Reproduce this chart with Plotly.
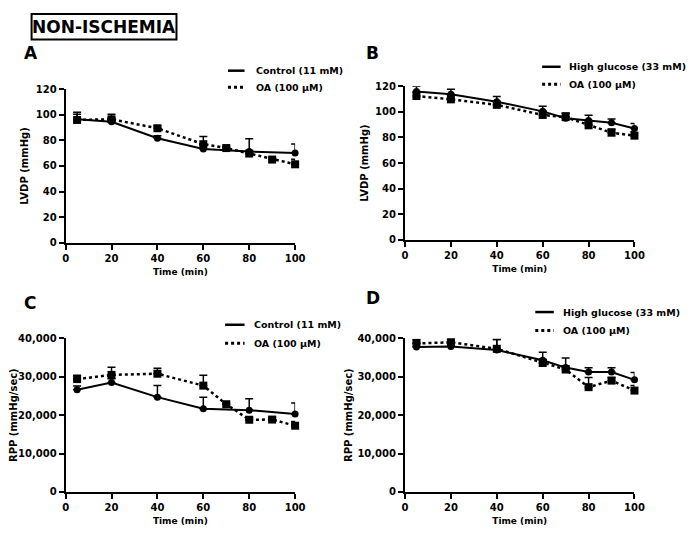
import plotly.graph_objects as go

# ---------------- data ----------------
time_ctrl = [5, 20, 40, 60, 80, 100]
time_oa = [5, 20, 40, 60, 70, 80, 90, 100]
time_hg = [5, 20, 40, 60, 70, 80, 90, 100]

# Panel A: LVDP, control vs OA
lvdp_ctrl = [96.5, 94.5, 81.7, 73.3, 71.3, 70.2]
lvdp_ctrl_err = [4, 3, 2, 3, 10, 7]
lvdp_ctrl_oa = [96.0, 96.5, 89.5, 77.0, 74.0, 69.7, 65.0, 61.3]
lvdp_ctrl_oa_err = [6, 4, 2, 6, 1, 2, 1, 4]

# Panel B: LVDP, high glucose vs OA
lvdp_hg = [116.0, 113.7, 108.0, 100.4, 95.1, 93.3, 91.5, 87.0]
lvdp_hg_err = [4, 4, 4, 4, 4, 4, 3, 4]
lvdp_hg_oa = [112.4, 109.8, 105.5, 97.6, 95.9, 89.5, 83.7, 81.4]
lvdp_hg_oa_err = [3, 3, 3, 3, 3, 3, 3, 3]

# Panel C: RPP, control vs OA
rpp_ctrl = [26600, 28500, 24700, 21700, 21300, 20300]
rpp_ctrl_err = [1000, 1000, 3000, 3000, 3000, 2900]
rpp_ctrl_oa = [29400, 30500, 30800, 27700, 22850, 18800, 18850, 17250]
rpp_ctrl_oa_err = [1000, 2000, 1400, 2700, 300, 500, 600, 1100]

# Panel D: RPP, high glucose vs OA
rpp_hg = [37800, 37900, 37000, 34300, 32400, 31250, 31250, 29200]
rpp_hg_err = [1000, 1000, 2700, 2100, 2500, 1100, 1100, 1900]
rpp_hg_oa = [38700, 39000, 37300, 33600, 31900, 27300, 29000, 26400]
rpp_hg_oa_err = [1000, 700, 2400, 1000, 1000, 2500, 800, 1300]

x_ticks = [0, 20, 40, 60, 80, 100]
lvdp_ticks = [0, 20, 40, 60, 80, 100, 120]
rpp_ticks = [0, 10000, 20000, 30000, 40000]

panel_letters = ["A", "B", "C", "D"]
legend_labels = [["Control (11 mM)", "OA (100 \u03bcM)"],
                 ["High glucose (33 mM)", "OA (100 \u03bcM)"],
                 ["Control (11 mM)", "OA (100 \u03bcM)"],
                 ["High glucose (33 mM)", "OA (100 \u03bcM)"]]
main_title = "NON-ISCHEMIA"

# ---------------- layout helpers ----------------
# the page body has an 8px margin, so the figure is drawn 8px in
OFF = 8
W, H = 697 - OFF, 535 - OFF
FONT = "DejaVu Sans"


def px(x):
    return (x - OFF) / W


def py(y):
    return 1 - (y - OFF) / H


def bold_labels(vals):
    return ["<b>{:,}</b>".format(v) for v in vals]


fig = go.Figure()


def add_pair(xa, ya, t1, y1, e1, t2, y2, e2):
    solid = go.Scatter(
        x=t1, y=y1, mode="lines+markers", xaxis=xa, yaxis=ya,
        line=dict(color="black", width=2),
        marker=dict(symbol="circle", size=7, color="black"),
        error_y=dict(type="data", symmetric=False, array=e1,
                     arrayminus=[0] * len(e1), color="black",
                     thickness=1.5, width=4),
        cliponaxis=False, showlegend=False)
    dotted = go.Scatter(
        x=t2, y=y2, mode="lines+markers", xaxis=xa, yaxis=ya,
        line=dict(color="black", width=2.5, dash="dot"),
        marker=dict(symbol="square", size=8, color="black"),
        error_y=dict(type="data", symmetric=False, array=e2,
                     arrayminus=[0] * len(e2), color="black",
                     thickness=1.5, width=4),
        cliponaxis=False, showlegend=False)
    fig.add_trace(dotted)
    fig.add_trace(solid)


add_pair("x", "y", time_ctrl, lvdp_ctrl, lvdp_ctrl_err,
         time_oa, lvdp_ctrl_oa, lvdp_ctrl_oa_err)
add_pair("x2", "y2", time_hg, lvdp_hg, lvdp_hg_err,
         time_hg, lvdp_hg_oa, lvdp_hg_oa_err)
add_pair("x3", "y3", time_ctrl, rpp_ctrl, rpp_ctrl_err,
         time_oa, rpp_ctrl_oa, rpp_ctrl_oa_err)
add_pair("x4", "y4", time_hg, rpp_hg, rpp_hg_err,
         time_hg, rpp_hg_oa, rpp_hg_oa_err)

# plot-area pixel boxes: (left, right, top, bottom)
boxes = [(58, 294, 85, 242), (407, 643, 82, 239),
         (58, 294, 340, 497), (407, 643, 340, 497)]

tickfont = dict(family=FONT, size=10, color="black")
xtitlefont = dict(family=FONT, size=9, color="black")
ytitlefont = dict(family=FONT, size=10, color="black")

layout = dict(
    width=W, height=H, margin=dict(l=0, r=0, t=0, b=0),
    paper_bgcolor="white", plot_bgcolor="white", showlegend=False,
    font=dict(family=FONT, color="black"),
)

for i, (l, r, t, b) in enumerate(boxes):
    sfx = "" if i == 0 else str(i + 1)
    anchor_x = "y" + sfx
    anchor_y = "x" + sfx
    layout["xaxis" + sfx] = dict(
        domain=[px(l), px(r)], anchor=anchor_x, range=[0, 100],
        tickvals=x_ticks, ticktext=bold_labels(x_ticks),
        showline=True, linewidth=2, linecolor="black",
        ticks="outside", ticklen=5, tickwidth=2, tickcolor="black",
        showgrid=False, zeroline=False, tickfont=tickfont,
        title=dict(text="<b>Time (min)</b>", font=xtitlefont, standoff=6),
    )
    if i < 2:
        yextra = dict(range=[0, 120], tickvals=lvdp_ticks,
                      ticktext=bold_labels(lvdp_ticks),
                      title=dict(text="<b>LVDP (mmHg)</b>", font=ytitlefont,
                                 standoff=5))
    else:
        yextra = dict(range=[0, 40000], tickvals=rpp_ticks,
                      ticktext=bold_labels(rpp_ticks),
                      title=dict(text="<b>RPP (mmHg/sec)</b>",
                                 font=ytitlefont, standoff=3))
    layout["yaxis" + sfx] = dict(
        domain=[py(b), py(t)], anchor=anchor_y, showline=True, linewidth=2,
        linecolor="black", ticks="outside", ticklen=5, tickwidth=2,
        tickcolor="black", showgrid=False, zeroline=False,
        tickfont=tickfont, **yextra)

fig.update_layout(**layout)

annotations = []
shapes = []

# main title with box
annotations.append(dict(
    x=px(97), y=py(21), xref="paper", yref="paper", text="<b>" + main_title + "</b>",
    showarrow=False, font=dict(family=FONT, size=17, color="black"),
    xanchor="center", yanchor="middle"))
shapes.append(dict(type="rect", xref="paper", yref="paper",
                   x0=px(23), x1=px(172), y0=py(34), y1=py(8),
                   line=dict(color="black", width=2)))

# panel letters
letter_pos = [(13, 48), (365, 48), (13, 304), (365, 299)]
for letter, (lx, ly) in zip(panel_letters, letter_pos):
    annotations.append(dict(
        x=px(lx), y=py(ly), xref="paper", yref="paper",
        text="<b>" + letter + "</b>", showarrow=False,
        font=dict(family=FONT, size=17, color="black"),
        xanchor="left", yanchor="middle"))

# legends (line samples + labels)
legend_pos = [(225, 242, 252, 66, 83), (548, 567, 574, 62, 80),
              (222, 242, 250, 326, 345), (541, 560, 567, 313, 332)]
for labels, (sx0, sx1, tx, y1, y2) in zip(legend_labels, legend_pos):
    shapes.append(dict(type="line", xref="paper", yref="paper",
                       x0=px(sx0), x1=px(sx1), y0=py(y1), y1=py(y1),
                       line=dict(color="black", width=2.5)))
    shapes.append(dict(type="line", xref="paper", yref="paper",
                       x0=px(sx0), x1=px(sx1), y0=py(y2), y1=py(y2),
                       line=dict(color="black", width=3, dash="dot")))
    for lab, yy in zip(labels, (y1, y2)):
        annotations.append(dict(
            x=px(tx), y=py(yy), xref="paper", yref="paper",
            text="<b>" + lab + "</b>", showarrow=False,
            font=dict(family=FONT, size=9.5, color="black"),
            xanchor="left", yanchor="middle"))

fig.update_layout(annotations=annotations, shapes=shapes)

fig.write_html("out.html")
